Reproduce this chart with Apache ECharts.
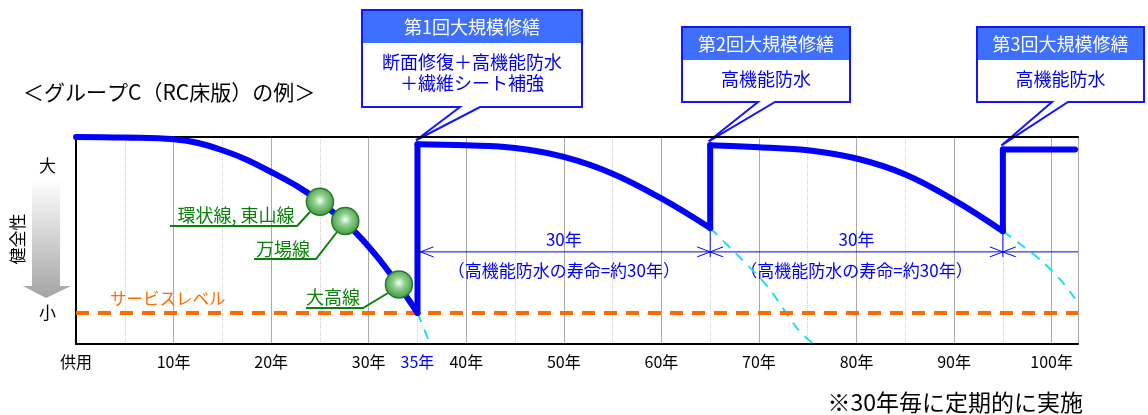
<!DOCTYPE html>
<html>
<head>
<meta charset="utf-8">
<script src="https://cdn.jsdelivr.net/npm/echarts@6/dist/echarts.min.js"></script>
<style>
html, body { margin: 0; padding: 0; background: #fff; }
#main { width: 1148px; height: 415px; }
</style>
</head>
<body>
<div id="main"></div>
<script>
// 健全性の推移 [経過年, 健全性(0-100)]
var deterioration1 = [[0, 100], [5, 99.7], [10, 98.9], [15, 93.6], [20, 83.1], [25, 68.7], [30, 47], [35, 15]];
var deterioration2 = [[35, 96.5], [40, 96], [45, 94.7], [50, 90.4], [55, 82.3], [60, 70.3], [65, 56]];
var deterioration3 = [[65, 96], [70, 95], [75, 93.6], [80, 89.6], [85, 81.9], [90, 69.5], [95, 54.5]];
var deterioration4 = [[95, 94], [102.4, 94]];
// 大規模修繕による回復
var repairJumps = [[[35, 15], [35, 96.5]], [[65, 56], [65, 96]], [[95, 54.5], [95, 94]]];
// 修繕しない場合（水色破線）
var noRepair = [
    [[35, 15], [36.3, 0]],
    [[65, 56], [68, 42], [71, 27], [74, 7], [75.6, 0]],
    [[95, 54.5], [97, 47.5], [99, 40], [101, 30.5], [102.4, 22]]
];
// 路線
var routeNames = ['環状線, 東山線', '万場線', '大高線'];
var routePoints = [[25, 68.7], [27.6, 59.4], [33.1, 28.8]];
var serviceLevel = 15;
var xMax = 102.7;
// 軸ラベル
var tickYears = [0, 10, 20, 30, 35, 40, 50, 60, 70, 80, 90, 100];
var tickNames = ['供用', '10年', '20年', '30年', '35年', '40年', '50年', '60年', '70年', '80年', '90年', '100年'];
var levelValues = [86, 15];
var levelNames = ['大', '小'];
// 修繕
var repairYears = [35, 65, 95];
var repairTitles = ['第1回大規模修繕', '第2回大規模修繕', '第3回大規模修繕'];
var repairWorks = [['断面修復＋高機能防水', '＋繊維シート補強'], ['高機能防水'], ['高機能防水']];
// 寿命の寸法線
var spanLevel = 44.5;
var spanCenters = [50, 80];
var spanMarks = [[[65, 56], [65, 42]], [[95, 54.5], [95, 42]]];

var FONT = '"Noto Sans CJK JP", "Noto Sans", sans-serif';
var BLUE = '#0000FF';

var myChart = echarts.init(document.getElementById('main'));

var series = [];
// 修繕しない場合
noRepair.forEach(function (d) {
    series.push({
        type: 'line', data: d, smooth: 0.3, symbol: 'none', z: 2, silent: true,
        lineStyle: { color: '#19E0EE', width: 2, type: [10, 8] }
    });
});
// サービスレベル
series.push({
    type: 'line', data: [[0, serviceLevel], [xMax, serviceLevel]], symbol: 'none', z: 2,
    lineStyle: { color: '#FF6A00', width: 4, type: [13, 9] }
});
// 寸法線
series.push({
    type: 'line', data: [[35, spanLevel], [xMax, spanLevel]], symbol: 'none', z: 2,
    lineStyle: { color: BLUE, width: 1 }
});
spanMarks.forEach(function (d) {
    series.push({ type: 'line', data: d, symbol: 'none', z: 2, lineStyle: { color: BLUE, width: 1 } });
});
// 健全性の曲線
[deterioration1, deterioration2, deterioration3, deterioration4].forEach(function (d) {
    series.push({
        type: 'line', data: d, smooth: 0.4, symbol: 'none', z: 3,
        lineStyle: { color: BLUE, width: 6, cap: 'round', join: 'round' }
    });
});
repairJumps.forEach(function (d) {
    series.push({
        type: 'line', data: d, symbol: 'none', z: 3,
        lineStyle: { color: BLUE, width: 6, cap: 'round', join: 'round' }
    });
});
// 路線の玉
series.push({
    type: 'scatter', data: routePoints, symbolSize: 27, z: 5,
    itemStyle: {
        opacity: 1,
        color: {
            type: 'radial', x: 0.5, y: 0.45, r: 0.6,
            colorStops: [{ offset: 0, color: '#f6fff6' }, { offset: 0.35, color: '#8fcf8f' }, { offset: 1, color: '#2f8f2f' }]
        },
        borderColor: '#25792a', borderWidth: 1.5
    }
});

var option = {
    animation: false,
    grid: { left: 76, top: 137, right: 70, bottom: 71 },
    xAxis: [{
        type: 'value', min: 0, max: xMax, interval: 5, position: 'bottom',
        axisLine: { lineStyle: { color: '#000', width: 2 } },
        axisTick: { show: false },
        splitLine: { show: false },
        axisLabel: {
            margin: 10, fontSize: 16, color: '#000', fontFamily: FONT,
            formatter: function (v) {
                var i = tickYears.indexOf(v);
                if (i < 0) return '';
                return v === 35 ? '{b|' + tickNames[i] + '}' : tickNames[i];
            },
            rich: { b: { color: BLUE, fontSize: 16, fontFamily: FONT } }
        }
    }, {
        type: 'value', min: 0, max: xMax, interval: 10, position: 'top',
        axisLine: { lineStyle: { color: '#000', width: 2 } },
        axisTick: { show: false },
        axisLabel: { show: false },
        splitLine: { show: true, lineStyle: { color: '#a8a8a8', width: 1 } },
        minorTick: { show: false, splitNumber: 2 },
        minorSplitLine: { show: true, lineStyle: { color: '#cccccc', width: 1, type: 'dotted' } }
    }],
    yAxis: {
        type: 'value', min: 0, max: 100, interval: 1,
        axisLine: { show: true, lineStyle: { color: '#000', width: 2 } },
        axisTick: { show: false },
        splitLine: { show: false },
        axisLabel: {
            margin: 20, fontSize: 17, color: '#000', fontFamily: FONT,
            formatter: function (v) {
                var i = levelValues.indexOf(v);
                return i < 0 ? '' : levelNames[i];
            }
        }
    },
    series: series
};
myChart.setOption(option);

function px(p) {
    return myChart.convertToPixel({ xAxisIndex: 0, yAxisIndex: 0 }, p);
}

function txt(x, y, s, size, color, align, extra) {
    var e = {
        type: 'text', x: x, y: y, silent: true,
        style: { text: s, font: size + 'px ' + FONT, fill: color, textAlign: align || 'center', textVerticalAlign: 'middle' }
    };
    if (extra) for (var k in extra) e[k] = extra[k];
    return e;
}

function poly(points, stroke, width, fill) {
    return {
        type: 'polyline', silent: true, shape: { points: points },
        style: { stroke: stroke, lineWidth: width, fill: fill || null }
    };
}

var g = [];
// タイトル
g.push(txt(23, 92, '＜グループC（RC床版）の例＞', 21, '#000', 'left'));
// 注記
g.push(txt(1083, 402, '※30年毎に定期的に実施', 23, '#000', 'right'));
// 健全性の矢印
g.push({
    type: 'polygon', silent: true,
    shape: { points: [[32, 179], [60, 179], [60, 286], [71, 286], [46, 298], [22.7, 286], [32, 286]] },
    style: {
        fill: { type: 'linear', x: 0, y: 0, x2: 0, y2: 1, colorStops: [{ offset: 0, color: '#ffffff' }, { offset: 1, color: '#a4a4a4' }] }
    }
});
g.push(txt(0, 0, '健全性', 17, '#000', 'center', { x: 17.5, y: 239, rotation: Math.PI / 2 }));
// サービスレベル
g.push(txt(110, 299, 'サービスレベル', 16.5, '#FF6A00', 'left'));

// 路線ラベル
var routeLabel = [
    { c: [236, 215], line: [[170, 226], [297, 226], [310, 212]] },
    { c: [283, 249], line: [[254, 259], [316, 259], [337, 232]] },
    { c: [333, 297], line: [[306, 308], [363, 308], [388, 293]] }
];
routeLabel.forEach(function (r, i) {
    g.push(txt(r.c[0], r.c[1], routeNames[i], 18, '#0A820A'));
    g.push(poly(r.line, '#0A820A', 2));
});

// 寸法線の矢印と文字
var y0 = px([35, spanLevel])[1];
var x35 = px([35, spanLevel])[0] + 3;
g.push(poly([[x35 + 13, y0 - 5], [x35, y0], [x35 + 13, y0 + 5]], BLUE, 1));
[65, 95].forEach(function (yr) {
    var x = px([yr, spanLevel])[0];
    g.push(poly([[x - 13, y0 - 5], [x, y0], [x - 13, y0 + 5]], BLUE, 1));
    g.push(poly([[x + 13, y0 - 5], [x, y0], [x + 13, y0 + 5]], BLUE, 1));
});
spanCenters.forEach(function (yr) {
    var x = px([yr, spanLevel])[0];
    g.push(txt(x, y0 - 12, '30年', 17, BLUE));
    g.push(txt(x, y0 + 19, '（高機能防水の寿命=約30年）', 17, BLUE));
});

// 修繕の吹き出し
var boxes = [
    { x: 362, y: 10, w: 220, h: 97, b0: 460, b1: 480 },
    { x: 682, y: 27, w: 168, h: 75, b0: 758, b1: 775 },
    { x: 977, y: 27, w: 167, h: 75, b0: 1052, b1: 1068 }
];
boxes.forEach(function (b, i) {
    var top = repairJumps[i][1];
    var tip = px(top);
    tip = [tip[0] - 1.5, tip[1] - 4];
    g.push({
        type: 'polygon', silent: true,
        shape: { points: [[b.x, b.y], [b.x + b.w, b.y], [b.x + b.w, b.y + b.h], [b.b1, b.y + b.h], tip, [b.b0, b.y + b.h], [b.x, b.y + b.h]] },
        style: { fill: '#fff', stroke: '#1414FF', lineWidth: 2 }
    });
    g.push({
        type: 'rect', silent: true,
        shape: { x: b.x + 1, y: b.y + 1, width: b.w - 2, height: 32 },
        style: { fill: '#3F6FFF' }
    });
    var cx = b.x + b.w / 2;
    g.push(txt(cx, b.y + 17, repairTitles[i], 18, '#ffffff'));
    repairWorks[i].forEach(function (s, j) {
        g.push(txt(cx, b.y + 52 + j * 21, s, 18, '#0000EE'));
    });
});

myChart.setOption({ graphic: { elements: g } });
</script>
</body>
</html>
